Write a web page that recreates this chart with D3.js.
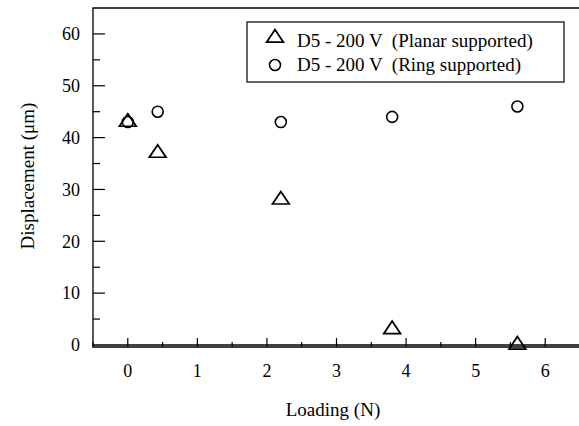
<!DOCTYPE html>
<html>
<head>
<meta charset="utf-8">
<script src="https://cdn.jsdelivr.net/npm/d3@7"></script>
<style>
  body { margin: 0; background: #fff; }
</style>
</head>
<body>
<div class="canvas"></div>
<script>
// data
const loading = [0, 0.43, 2.2, 3.8, 5.6]
const planar = [43, 37, 28, 3, 0]
const ring = [43, 45, 43, 44, 46]
const seriesNames = ['D5 - 200 V  (Planar supported)', 'D5 - 200 V  (Ring supported)']
const xTicks = [0, 1, 2, 3, 4, 5, 6]
const yTicks = [0, 10, 20, 30, 40, 50, 60]

const dims = {width: 579, height: 426}
const plot = {left: 93, top: 8, right: 580, bottom: 347}
const serif = "'Liberation Serif', 'DejaVu Serif', serif"

const svg = d3.select('.canvas')
    .append('svg')
    .attr('width', dims.width)
    .attr('height', dims.height)
    .attr('font-family', serif)

const x = d3.scaleLinear().domain([-0.5, 6.5]).range([plot.left, plot.right])
const y = d3.scaleLinear().domain([-0.39, 65]).range([plot.bottom, plot.top])

// frame: left, top, bottom (right side is cut off)
svg.append('path')
    .attr('d', `M${plot.right},${plot.top}H${plot.left}V${plot.bottom}H${plot.right}`)
    .attr('fill', 'none')
    .attr('stroke', '#000')
    .attr('stroke-width', 1.3)

// zero line
svg.append('line')
    .attr('x1', plot.left).attr('x2', plot.right)
    .attr('y1', y(0)).attr('y2', y(0))
    .attr('stroke', '#000').attr('stroke-width', 1.3)

// y axis ticks (inward)
const yAxis = svg.append('g')
yAxis.selectAll('line.minor')
    .data(d3.range(5, 65, 10))
    .enter().append('line')
    .attr('x1', plot.left).attr('x2', plot.left + 7)
    .attr('y1', d => y(d)).attr('y2', d => y(d))
    .attr('stroke', '#000').attr('stroke-width', 1.2)
yAxis.selectAll('line.major')
    .data(yTicks.filter(d => d > 0))
    .enter().append('line')
    .attr('x1', plot.left).attr('x2', plot.left + 12)
    .attr('y1', d => y(d)).attr('y2', d => y(d))
    .attr('stroke', '#000').attr('stroke-width', 1.2)
yAxis.selectAll('text')
    .data(yTicks)
    .enter().append('text')
    .attr('x', 80)
    .attr('y', d => y(d))
    .attr('dy', '0.35em')
    .attr('text-anchor', 'end')
    .attr('font-size', 18)
    .text(d => d)

// x axis ticks (inward, upward from the axis)
const xAxis = svg.append('g')
xAxis.selectAll('line.minor')
    .data(d3.range(-0.5, 6.5, 1))
    .enter().append('line')
    .attr('x1', d => x(d)).attr('x2', d => x(d))
    .attr('y1', plot.bottom).attr('y2', plot.bottom - 5)
    .attr('stroke', '#000').attr('stroke-width', 1.2)
xAxis.selectAll('line.major')
    .data(xTicks)
    .enter().append('line')
    .attr('x1', d => x(d)).attr('x2', d => x(d))
    .attr('y1', plot.bottom).attr('y2', plot.bottom - 9)
    .attr('stroke', '#000').attr('stroke-width', 1.2)
xAxis.selectAll('text')
    .data(xTicks)
    .enter().append('text')
    .attr('x', d => x(d))
    .attr('y', 371)
    .attr('dy', '0.35em')
    .attr('text-anchor', 'middle')
    .attr('font-size', 18)
    .text(d => d)

// axis titles
svg.append('text')
    .attr('transform', 'translate(27,176) rotate(-90)')
    .attr('text-anchor', 'middle')
    .attr('dy', '0.35em')
    .attr('font-size', 19)
    .text('Displacement (μm)')
svg.append('text')
    .attr('x', 333).attr('y', 409)
    .attr('text-anchor', 'middle')
    .attr('dy', '0.35em')
    .attr('font-size', 19)
    .text('Loading (N)')

// markers
const tri = d3.symbol().type(d3.symbolTriangle).size(110)
const planarPts = loading.map((d, i) => ({x: d, y: planar[i]}))
const ringPts = loading.map((d, i) => ({x: d, y: ring[i]}))

svg.append('g').selectAll('path')
    .data(planarPts)
    .enter().append('path')
    .attr('d', tri)
    .attr('transform', d => `translate(${x(d.x)},${y(d.y)}) scale(1.05,0.9)`)
    .attr('fill', 'none')
    .attr('stroke', '#000')
    .attr('stroke-width', 1.8)

svg.append('g').selectAll('circle')
    .data(ringPts)
    .enter().append('circle')
    .attr('cx', d => x(d.x))
    .attr('cy', d => y(d.y))
    .attr('r', 5.5)
    .attr('fill', 'none')
    .attr('stroke', '#000')
    .attr('stroke-width', 1.6)

// legend
const legend = svg.append('g')
legend.append('rect')
    .attr('x', 247).attr('y', 22)
    .attr('width', 317).attr('height', 60)
    .attr('fill', '#fff')
    .attr('stroke', '#000')
    .attr('stroke-width', 1.2)
legend.append('path')
    .attr('d', tri)
    .attr('transform', 'translate(275,38) scale(1.05,0.9)')
    .attr('fill', 'none').attr('stroke', '#000').attr('stroke-width', 1.8)
legend.append('circle')
    .attr('cx', 275).attr('cy', 65).attr('r', 5.5)
    .attr('fill', 'none').attr('stroke', '#000').attr('stroke-width', 1.6)
legend.selectAll('text')
    .data(seriesNames)
    .enter().append('text')
    .attr('x', 297)
    .attr('y', (d, i) => 40 + i * 24)
    .attr('dy', '0.35em')
    .attr('font-size', 19)
    .style('white-space', 'pre')
    .text(d => d)
</script>
</body>
</html>
